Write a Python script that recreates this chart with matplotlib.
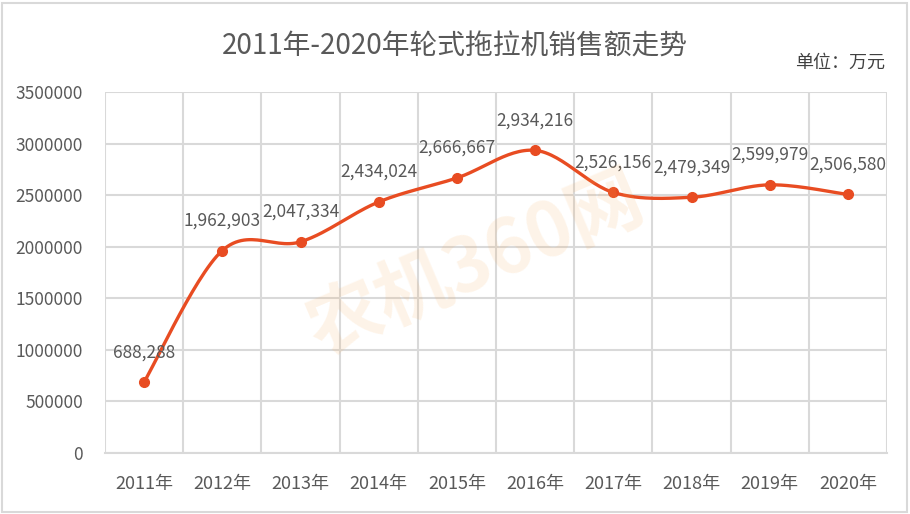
import numpy as np
import matplotlib.pyplot as plt
from matplotlib.patches import Rectangle

plt.rcParams['font.family'] = ['Noto Sans CJK SC', 'DejaVu Sans']

years = ['2011年', '2012年', '2013年', '2014年', '2015年',
         '2016年', '2017年', '2018年', '2019年', '2020年']
sales = [688288, 1962903, 2047334, 2434024, 2666667,
         2934216, 2526156, 2479349, 2599979, 2506580]

line_color = '#E84C22'
text_color = '#595959'
grid_color = '#D9D9D9'


def smooth(xs, ys, n=30):
    # excel style smoothed line: bezier through points, catmull-rom controls
    xs = np.asarray(xs, float)
    ys = np.asarray(ys, float)
    px = np.concatenate([[xs[0]], xs, [xs[-1]]])
    py = np.concatenate([[ys[0]], ys, [ys[-1]]])
    outx, outy = [], []
    t = np.linspace(0, 1, n)
    for i in range(1, len(px) - 2):
        p0 = np.array([px[i], py[i]])
        p3 = np.array([px[i + 1], py[i + 1]])
        c1 = p0 + (np.array([px[i + 1], py[i + 1]]) - np.array([px[i - 1], py[i - 1]])) / 6
        c2 = p3 - (np.array([px[i + 2], py[i + 2]]) - np.array([px[i], py[i]])) / 6
        for tt in t:
            b = ((1 - tt) ** 3) * p0 + 3 * ((1 - tt) ** 2) * tt * c1 + 3 * (1 - tt) * tt ** 2 * c2 + tt ** 3 * p3
            outx.append(b[0])
            outy.append(b[1])
    return outx, outy


fig = plt.figure(figsize=(9.1, 5.14), dpi=100)
ax = fig.add_axes([105 / 910, 1 - 453 / 514, 782 / 910, 361 / 514])

x = np.arange(len(years))
sx, sy = smooth(x, sales)
ax.plot(sx, sy, color=line_color, linewidth=2.4, solid_capstyle='round', zorder=3)
ax.plot(x, sales, 'o', color=line_color, markersize=7, zorder=4)

for xi, v in zip(x, sales):
    ax.annotate(f'{v:,}', (xi, v), xytext=(0, 15), textcoords='offset points',
                ha='center', va='bottom', fontsize=12.5, color=text_color, zorder=5)

ax.set_xlim(-0.5, len(years) - 0.5)
ax.set_ylim(0, 3500000)
ax.set_yticks(np.arange(0, 3500001, 500000))
ax.set_yticklabels([str(v) for v in range(0, 3500001, 500000)])
ax.set_xticks(x)
ax.set_xticklabels(years)
ax.set_xticks(np.arange(-0.5, len(years)), minor=True)
ax.grid(True, which='major', axis='y', color=grid_color, linewidth=1.5)
ax.grid(True, which='minor', axis='x', color=grid_color, linewidth=1.5)
ax.tick_params(which='both', length=0)
ax.tick_params(axis='y', pad=16, labelsize=12.5, labelcolor=text_color)
ax.tick_params(axis='x', pad=16, labelsize=13, labelcolor=text_color)
for s in ax.spines.values():
    s.set_visible(False)
ax.spines['bottom'].set_visible(True)
ax.spines['bottom'].set_color(grid_color)
ax.spines['bottom'].set_linewidth(1.5)
ax.set_axisbelow(True)

# watermark
fig.text(475 / 910, 1 - 265 / 514, '农机360网', fontsize=54, fontweight='bold', color='#F7A54A',
         alpha=0.13, rotation=23, ha='center', va='center')

fig.text(0.5, 1 - 47 / 514, '2011年-2020年轮式拖拉机销售额走势', ha='center', va='center',
         fontsize=20, color=text_color)
fig.text(885 / 910, 1 - 63 / 514, '单位：万元', ha='right', va='center',
         fontsize=13, color='#404040')

fig.patches.append(Rectangle((2 / 910, 2 / 514), 905 / 910, 509 / 514, transform=fig.transFigure,
                             fill=False, edgecolor='#D9D9D9', linewidth=1.5))

fig.savefig('out.png', dpi=100)
